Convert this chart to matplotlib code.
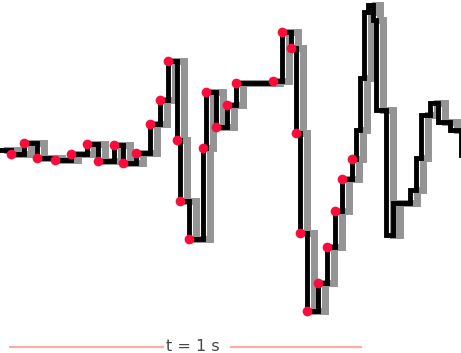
import numpy as np
import matplotlib
matplotlib.use("Agg")
import matplotlib.pyplot as plt

# sampled points of the trace (time in s, amplitude in mV)
t_samples = [0.003, 0.040, 0.077, 0.129, 0.174, 0.220, 0.251, 0.297, 0.323, 0.360,
             0.400, 0.429, 0.451, 0.477, 0.486, 0.511, 0.551, 0.560, 0.589, 0.620,
             0.646, 0.751, 0.777, 0.803, 0.817, 0.829, 0.849, 0.880, 0.906, 0.929,
             0.949, 0.977]
v_samples = [-0.04, 0.07, -0.08, -0.10, -0.04, 0.06, -0.11, 0.05, -0.13, -0.03,
             0.26, 0.50, 0.89, 0.10, -0.51, -0.89, 0.02, 0.58, 0.23, 0.45,
             0.67, 0.69, 1.18, 1.02, 0.17, -0.83, -1.61, -1.33, -0.97, -0.61,
             -0.29, -0.09]

# rest of the trace after the last sample
t_tail = [0.989, 1.000, 1.011, 1.023, 1.037, 1.046, 1.074, 1.094, 1.143, 1.160,
          1.174, 1.200, 1.223, 1.257, 1.289]
v_tail = [0.20, 0.72, 1.38, 1.45, 1.30, 0.40, -0.85, -0.53, -0.40, -0.08,
          0.35, 0.47, 0.28, 0.20, -0.05]

t_start = [-0.029]
v_start = [0.0]

t = np.array(t_start + t_samples + t_tail)
v = np.array(v_start + v_samples + v_tail)

fig = plt.figure(figsize=(4.61, 3.53), dpi=100)
ax = fig.add_axes([0, 0, 1, 1])

# ghost trace a little later in time
ax.plot(t + 0.02, v, color="#949494", lw=5, drawstyle="steps-post",
        solid_joinstyle="miter", zorder=1)
ax.plot(t, v, color="black", lw=3.5, drawstyle="steps-post",
        solid_joinstyle="miter", zorder=2)
ax.plot(t_samples, v_samples, "o", color="#ff0a3a", ms=7, mec="none", zorder=3)

# time scale bar
bar_y = -1.97
ax.plot([0.0, 0.437], [bar_y, bar_y], color="#ffaaa2", lw=1.5)
ax.plot([0.631, 1.003], [bar_y, bar_y], color="#ffaaa2", lw=1.5)
ax.text(0.523, bar_y + 0.005, "t = 1 s", ha="center", va="center",
        fontsize=11.5, color="#484848")

ax.set_xlim(-0.0286, 1.2886)
ax.set_ylim(-2.03, 1.50)
ax.axis("off")

fig.savefig("out.png", dpi=100, facecolor="white")
